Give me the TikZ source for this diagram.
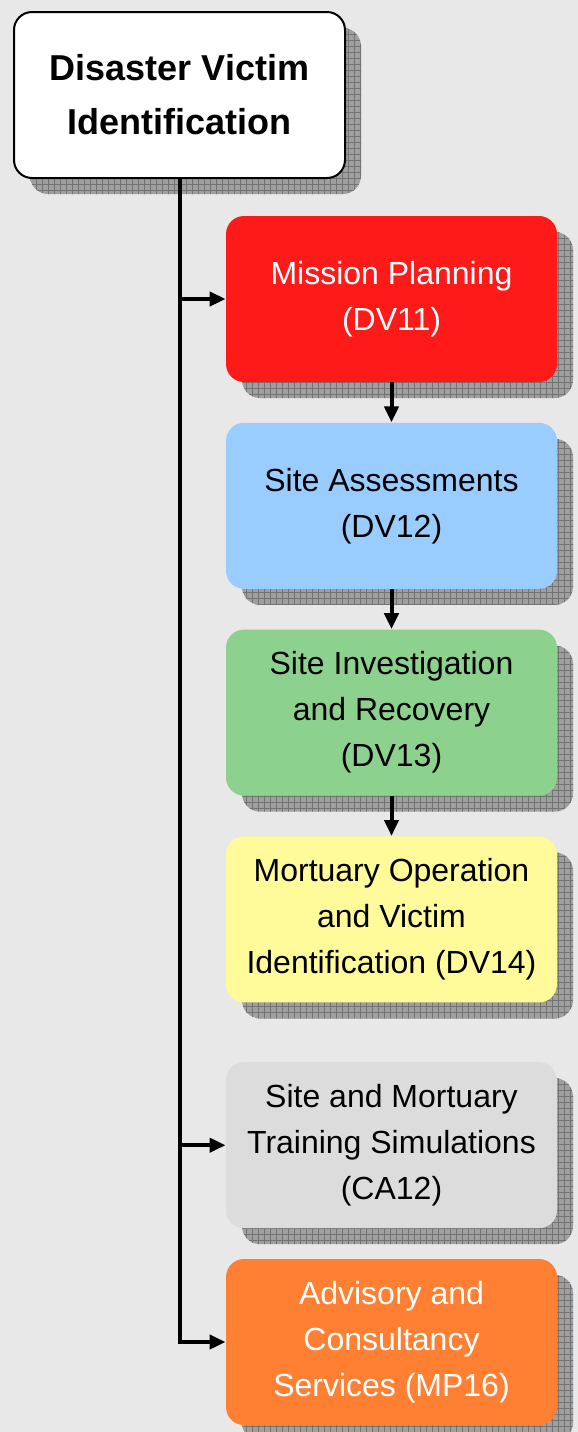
\documentclass[tikz,border=0pt]{standalone}
\usepackage{fontspec}
\setmainfont{Liberation Sans}
\usetikzlibrary{arrows.meta,positioning,patterns}

\definecolor{bggray}{HTML}{E8E8E8}
\definecolor{planred}{HTML}{FF1A1A}
\definecolor{assessblue}{HTML}{99CCFF}
\definecolor{recovgreen}{HTML}{8DD18F}
\definecolor{mortyellow}{HTML}{FFFB9B}
\definecolor{traingray}{HTML}{DCDCDC}
\definecolor{advorange}{HTML}{FF8033}

\begin{document}
\begin{tikzpicture}[
		every node/.style={font=\fontsize{16}{23}\selectfont},
		box/.style={
				rounded corners=9pt,
				align=center,
				minimum width=165.5pt,
				minimum height=83pt,
				inner sep=3pt,
				preaction={fill=gray!75, transform canvas={shift={(8pt,-8pt)}}},
				preaction={pattern=grid, pattern color=black!55, transform canvas={shift={(8pt,-8pt)}}}
		},
		arrow/.style={-{Triangle[length=8pt,width=7pt]}, line width=2pt}
	]

	% page background
	\fill[bggray] (0,0) rectangle (289pt,-716pt);

	% root
	\node[box, draw=black, line width=1pt, fill=white,
		font=\fontsize{18}{27}\selectfont\bfseries] (dvi) at (89.75pt,-47.5pt)
		{Disaster Victim\\Identification};

	% main chain
	\node[box, fill=planred, text=white] (plan) at (195.75pt,-149.5pt) {Mission Planning\\(DV11)};
	\node[box, fill=assessblue, below=20pt of plan] (assess) {Site Assessments\\(DV12)};
	\node[box, fill=recovgreen, below=20pt of assess] (recov) {Site Investigation\\and Recovery\\(DV13)};
	\node[box, fill=mortyellow, below=20pt of recov] (mort) {Mortuary Operation\\and Victim\\Identification (DV14)};

	% other services
	\node[box, fill=traingray, below=29.5pt of mort] (train) {Site and Mortuary\\Training Simulations\\(CA12)};
	\node[box, fill=advorange, text=white, below=15pt of train] (advise) {Advisory and\\Consultancy\\Services (MP16)};

	% trunk and branches
	\draw[arrow] (dvi.south) |- (advise.west);
	\draw[arrow] (dvi.south |- plan.west) -- (plan.west);
	\draw[arrow] (dvi.south |- train.west) -- (train.west);

	% chain arrows
	\draw[arrow] (plan) -- (assess);
	\draw[arrow] (assess) -- (recov);
	\draw[arrow] (recov) -- (mort);

\end{tikzpicture}
\end{document}
